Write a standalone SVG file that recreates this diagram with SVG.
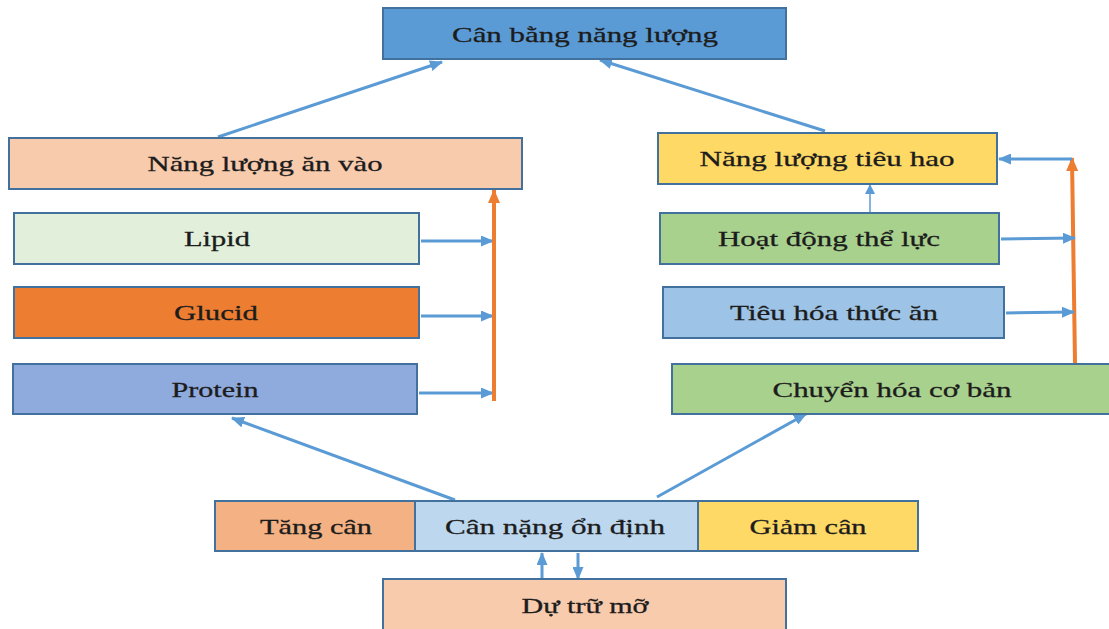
<svg xmlns="http://www.w3.org/2000/svg" width="1109" height="629" viewBox="0 0 1109 629">
<style>
.box{stroke:#41719c;stroke-width:2}
.t{font-family:"Liberation Serif","Times New Roman",serif;font-size:22px;fill:#1c1c1c;stroke:#1c1c1c;stroke-width:0.3;text-anchor:middle}
.b{stroke:#5b9bd5;stroke-width:3;fill:none}
.o{stroke:#ed7d31;stroke-width:4;fill:none}
</style>
<defs>
<marker id="ab" markerUnits="userSpaceOnUse" markerWidth="13" markerHeight="11" refX="12" refY="5.5" orient="auto"><path d="M0,0 L13,5.5 L0,11 Z" fill="#5b9bd5"/></marker>
<marker id="abs" markerUnits="userSpaceOnUse" markerWidth="10" markerHeight="10" refX="9" refY="5" orient="auto"><path d="M0,0 L10,5 L0,10 Z" fill="#5b9bd5"/></marker>
<marker id="ao" markerUnits="userSpaceOnUse" markerWidth="14" markerHeight="12" refX="13" refY="6" orient="auto"><path d="M0,0 L14,6 L0,12 Z" fill="#ed7d31"/></marker>
</defs>
<rect width="1109" height="629" fill="#ffffff"/>
<g id="connectors">
<line class="b" x1="218" y1="137" x2="442" y2="62" marker-end="url(#ab)"/>
<line class="b" x1="825" y1="131" x2="600" y2="60" marker-end="url(#ab)"/>
<line class="b" x1="421" y1="241" x2="493" y2="241" marker-end="url(#ab)"/>
<line class="b" x1="421" y1="316" x2="493" y2="316" marker-end="url(#ab)"/>
<line class="b" x1="419" y1="393" x2="493" y2="393" marker-end="url(#ab)"/>
<line class="o" x1="494" y1="401" x2="494" y2="190" marker-end="url(#ao)"/>
<line class="o" x1="1075" y1="363" x2="1072" y2="158" marker-end="url(#ao)"/>
<line class="b" x1="1072" y1="159" x2="999" y2="159" marker-end="url(#ab)"/>
<line class="b" x1="1001" y1="239" x2="1075" y2="238" marker-end="url(#ab)"/>
<line class="b" x1="1006" y1="313" x2="1074" y2="312" marker-end="url(#ab)"/>
<line stroke="#5b9bd5" stroke-width="1.5" x1="870" y1="212" x2="870" y2="185" marker-end="url(#abs)"/>
<line class="b" x1="455" y1="500" x2="232" y2="418" marker-end="url(#ab)"/>
<line class="b" x1="657" y1="497" x2="806" y2="414" marker-end="url(#ab)"/>
<line class="b" x1="542" y1="579" x2="542" y2="553" marker-end="url(#ab)"/>
<line class="b" x1="578" y1="553" x2="578" y2="579" marker-end="url(#ab)"/>
</g>
<g id="can-bang"><rect class="box" x="383" y="8" width="403" height="51" fill="#5b9bd5"/><text class="t" x="585" y="42" textLength="266" lengthAdjust="spacingAndGlyphs">Cân bằng năng lượng</text></g>
<g id="an-vao"><rect class="box" x="9" y="138" width="513" height="51" fill="#f8cbad"/><text class="t" x="265" y="171" textLength="235" lengthAdjust="spacingAndGlyphs">Năng lượng ăn vào</text></g>
<g id="lipid"><rect class="box" x="14" y="213" width="405" height="51" fill="#e2efda"/><text class="t" x="217" y="246" textLength="66" lengthAdjust="spacingAndGlyphs">Lipid</text></g>
<g id="glucid"><rect class="box" x="14" y="287" width="405" height="51" fill="#ed7d31"/><text class="t" x="216" y="320" textLength="84" lengthAdjust="spacingAndGlyphs">Glucid</text></g>
<g id="protein"><rect class="box" x="13" y="364" width="404" height="50" fill="#8faadc"/><text class="t" x="215" y="397" textLength="87" lengthAdjust="spacingAndGlyphs">Protein</text></g>
<g id="tieu-hao"><rect class="box" x="658" y="133" width="339" height="51" fill="#ffd966"/><text class="t" x="827" y="166" textLength="255" lengthAdjust="spacingAndGlyphs">Năng lượng tiêu hao</text></g>
<g id="hoat-dong"><rect class="box" x="660" y="213" width="339" height="51" fill="#a9d18e"/><text class="t" x="829" y="246" textLength="222" lengthAdjust="spacingAndGlyphs">Hoạt động thể lực</text></g>
<g id="tieu-hoa"><rect class="box" x="663" y="287" width="341" height="51" fill="#9dc3e6"/><text class="t" x="834" y="320" textLength="208" lengthAdjust="spacingAndGlyphs">Tiêu hóa thức ăn</text></g>
<g id="chuyen-hoa"><rect class="box" x="672" y="364" width="445" height="50" fill="#a9d18e"/><text class="t" x="892" y="397" textLength="239" lengthAdjust="spacingAndGlyphs">Chuyển hóa cơ bản</text></g>
<g id="tang-can"><rect class="box" x="215" y="501" width="200" height="50" fill="#f4b183"/><text class="t" x="316" y="534" textLength="112" lengthAdjust="spacingAndGlyphs">Tăng cân</text></g>
<g id="on-dinh"><rect class="box" x="415" y="501" width="283" height="50" fill="#bdd7ee"/><text class="t" x="555" y="534" textLength="220" lengthAdjust="spacingAndGlyphs">Cân nặng ổn định</text></g>
<g id="giam-can"><rect class="box" x="698" y="501" width="220" height="50" fill="#ffd966"/><text class="t" x="808" y="534" textLength="117" lengthAdjust="spacingAndGlyphs">Giảm cân</text></g>
<g id="du-tru"><rect class="box" x="383" y="579" width="403" height="60" fill="#f8cbad"/><text class="t" x="585" y="613" textLength="127" lengthAdjust="spacingAndGlyphs">Dự trữ mỡ</text></g>
</svg>
